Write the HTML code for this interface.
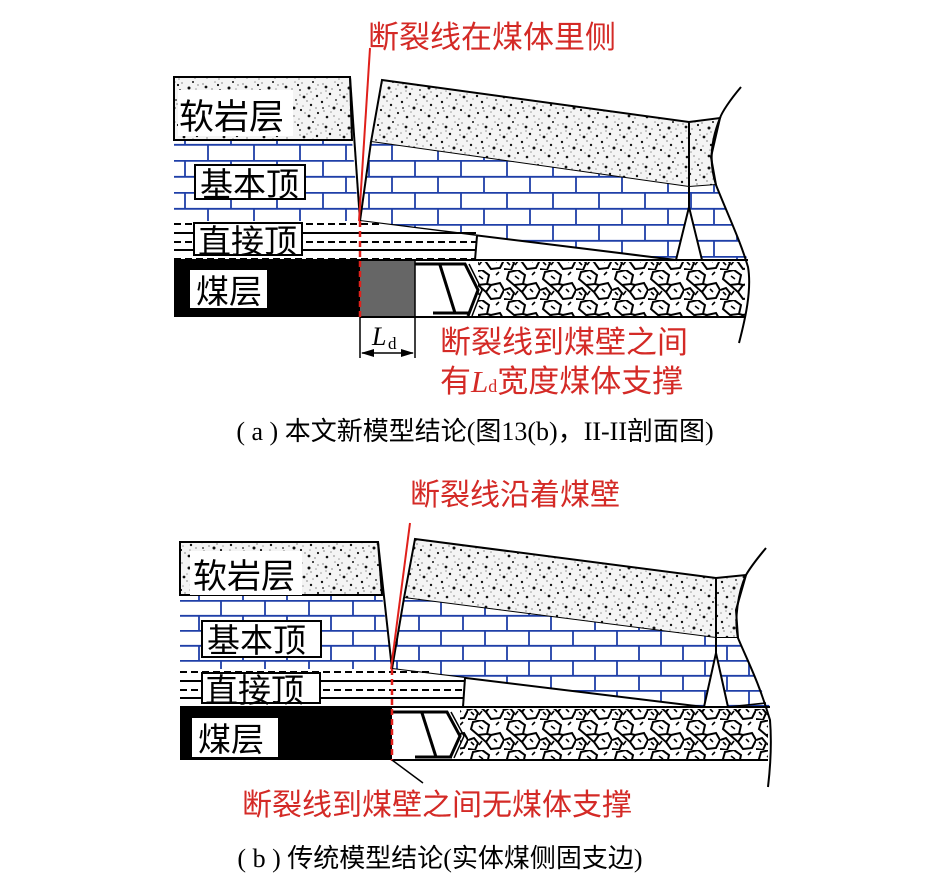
<!DOCTYPE html>
<html><head><meta charset="utf-8"><style>
html,body{margin:0;padding:0;background:#fff;}
svg{display:block;}
.cn{font-family:"Liberation Serif","Noto Sans CJK SC",sans-serif;}
</style></head><body>
<svg width="945" height="886" viewBox="0 0 945 886" xmlns="http://www.w3.org/2000/svg">
<defs>
<pattern id="sp" width="40" height="40" patternUnits="userSpaceOnUse">
<rect width="40" height="40" fill="#f4f4f4"/>
<g fill="#999">
<circle cx="3" cy="4" r="0.9"/><circle cx="12" cy="9" r="0.9"/><circle cx="22" cy="3" r="0.9"/><circle cx="31" cy="12" r="0.9"/><circle cx="7" cy="18" r="0.9"/><circle cx="17" cy="24" r="0.9"/><circle cx="27" cy="21" r="0.9"/><circle cx="36" cy="28" r="0.9"/><circle cx="4" cy="31" r="0.9"/><circle cx="14" cy="36" r="0.9"/><circle cx="25" cy="33" r="0.9"/><circle cx="35" cy="38" r="0.9"/><circle cx="20" cy="15" r="0.9"/><circle cx="38" cy="5" r="0.9"/><circle cx="9" cy="26" r="0.9"/>
<circle cx="15" cy="2" r="0.8"/><circle cx="33" cy="19" r="0.8"/><circle cx="1" cy="13" r="0.8"/><circle cx="23" cy="26" r="0.8"/><circle cx="30" cy="30" r="0.8"/><circle cx="11" cy="32" r="0.8"/><circle cx="19" cy="39" r="0.8"/><circle cx="27" cy="14" r="0.8"/><circle cx="6" cy="11" r="0.8"/><circle cx="36" cy="9" r="0.8"/>
</g>
<g fill="#111">
<circle cx="6" cy="7" r="1.4"/><circle cx="18" cy="5" r="1.1"/><circle cx="29" cy="8" r="1.5"/><circle cx="37" cy="16" r="1.2"/><circle cx="10" cy="14" r="1.2"/><circle cx="24" cy="17" r="1.4"/><circle cx="2" cy="22" r="1.2"/><circle cx="14" cy="28" r="1.5"/><circle cx="31" cy="25" r="1.2"/><circle cx="21" cy="30" r="1.1"/><circle cx="7" cy="37" r="1.3"/><circle cx="29" cy="36" r="1.4"/><circle cx="38" cy="33" r="1.1"/><circle cx="16" cy="20" r="0.9"/><circle cx="33" cy="2" r="1"/><circle cx="20" cy="10" r="0.9"/><circle cx="3" cy="28" r="0.9"/>
</g>
</pattern>
<pattern id="br" width="46" height="32" patternUnits="userSpaceOnUse">
<rect width="46" height="32" fill="#fff"/>
<path d="M0 0.8H46M0 16.8H46M1 0V16M24 16V32" stroke="#1f3fa8" stroke-width="1.8" fill="none"/>
</pattern>
<pattern id="br2" width="44" height="30" patternUnits="userSpaceOnUse">
<rect width="44" height="30" fill="#fff"/>
<path d="M0 0.8H44M0 15.8H44M1 0V15M23 15V30" stroke="#1f3fa8" stroke-width="1.8" fill="none"/>
</pattern>
<pattern id="hx" width="36" height="30" patternUnits="userSpaceOnUse">
<rect width="36" height="30" fill="#fff"/>
<path d="M5 2L14 0L21 5L19 14L10 15L3 9Z M23 15L32 13L36 20L32 28L23 29L18 22Z M0 20L6 18L10 23L7 30L0 29 M10 15L18 22 M19 14L23 15" stroke="#000" stroke-width="2" fill="none"/>
<path d="M11 6l4 3M26 19l3 3M3 22l3 3M14 21l-3 4M28 5l3-3" stroke="#000" stroke-width="1.6"/>
</pattern>
</defs>

<!-- ============ (a) ============ -->
<polygon points="174,77 350,77 352,140 174,140" fill="url(#sp)" stroke="#000" stroke-width="2"/>
<polygon points="174,140 352,140 359,221 174,221" fill="url(#br)"/>
<line x1="174" y1="140" x2="352" y2="140" stroke="#000" stroke-width="2"/>
<line x1="350" y1="77" x2="360" y2="221" stroke="#000" stroke-width="2"/>
<polygon points="382,80 689,122 689,187 371,142" fill="url(#sp)" stroke="#000" stroke-width="2"/>
<polygon points="689,122 720,118 711,157 716,185 689,187" fill="url(#sp)" stroke="#000" stroke-width="2"/>
<polygon points="371,142 689,187 716,185 742,247 748,260 702,260 689,207 676,260 360,221" fill="url(#br)"/>
<line x1="371" y1="142" x2="360" y2="221" stroke="#000" stroke-width="2"/>
<line x1="360" y1="221" x2="676" y2="260" stroke="#000" stroke-width="2"/>
<path d="M689 187V207L676 260M689 207L702 260" stroke="#000" stroke-width="2" fill="none"/>
<rect x="174" y="221" width="186" height="39" fill="#fff"/>
<polygon points="360,221 477,236 475,260 360,260" fill="#fff"/>
<g stroke="#000" stroke-width="2" fill="none">
<line x1="174" y1="233" x2="476" y2="233" />
<line x1="174" y1="250" x2="476" y2="250"/>
<line x1="477" y1="236" x2="475" y2="260"/>
</g>
<g stroke="#000" stroke-width="2" stroke-dasharray="7,4" fill="none">
<line x1="174" y1="224" x2="380" y2="224"/>
<line x1="174" y1="242" x2="476" y2="242"/>
<line x1="174" y1="259" x2="476" y2="259"/>
</g>
<rect x="174" y="260" width="186" height="57" fill="#000"/>
<rect x="360" y="261" width="55" height="55" fill="#666"/>
<rect x="478" y="262" width="267" height="54" fill="url(#hx)"/>
<line x1="174" y1="260" x2="748" y2="260" stroke="#000" stroke-width="2"/>
<line x1="360" y1="317" x2="745" y2="317" stroke="#000" stroke-width="2"/>
<line x1="415" y1="260" x2="415" y2="358" stroke="#000" stroke-width="1.5"/>
<line x1="360" y1="317" x2="360" y2="358" stroke="#000" stroke-width="1.5"/>
<g stroke="#000" fill="none">
<path d="M415 264H465L478 290L468 316" stroke-width="3"/>
<path d="M469 264L482 290L472 316" stroke-width="1.5"/>
<path d="M440 265L455 313" stroke-width="3"/>
<path d="M433 313H470" stroke-width="3"/>
</g>
<path d="M741 87C730 100 722 112 720 118C712 138 708 160 716 185C730 220 740 240 748 267C752 290 745 320 739 343" stroke="#000" stroke-width="2" fill="none"/>
<line x1="370" y1="48" x2="359" y2="221" stroke="#e0201b" stroke-width="2"/>
<line x1="360" y1="221" x2="360" y2="318" stroke="#e0201b" stroke-width="2.5" stroke-dasharray="6,4"/>
<rect x="178" y="90" width="115" height="46" fill="#fff"/>
<text x="179" y="129" class="cn" font-size="35">软岩层</text>
<rect x="195" y="165" width="110" height="34" fill="#fff" stroke="#000" stroke-width="2"/>
<text x="200" y="196" class="cn" font-size="33">基本顶</text>
<rect x="194" y="223" width="108" height="32" fill="#fff" stroke="#000" stroke-width="2"/>
<text x="198" y="253" class="cn" font-size="33">直接顶</text>
<rect x="190" y="270" width="77" height="38" fill="#fff"/>
<text x="196" y="303" class="cn" font-size="33">煤层</text>
<line x1="362" y1="353" x2="413" y2="353" stroke="#000" stroke-width="1.5"/>
<polygon points="361,353 374,349 374,357" fill="#000"/>
<polygon points="414,353 401,349 401,357" fill="#000"/>
<text x="372" y="345" font-family="Liberation Serif" font-style="italic" font-size="26">L</text>
<text x="388" y="349" font-family="Liberation Serif" font-size="17">d</text>
<text x="368" y="48" class="cn" font-size="31" fill="#d42a26">断裂线在煤体里侧</text>
<text x="440" y="353" class="cn" font-size="31" fill="#d42a26">断裂线到煤壁之间</text>
<text x="440" y="392" class="cn" font-size="31" fill="#d42a26">有<tspan font-family="Liberation Serif" font-style="italic">L</tspan><tspan font-family="Liberation Serif" font-size="18">d</tspan>宽度煤体支撑</text>
<text x="475" y="440" class="cn" font-size="26" text-anchor="middle">( a ) 本文新模型结论(图13(b)，II-II剖面图)</text>

<!-- ============ (b) ============ -->
<polygon points="180,542 378,542 382,595 180,595" fill="url(#sp)" stroke="#000" stroke-width="2"/>
<polygon points="180,595 382,595 392,669 180,669" fill="url(#br2)"/>
<line x1="180" y1="595" x2="382" y2="595" stroke="#000" stroke-width="2"/>
<line x1="378" y1="542" x2="392" y2="669" stroke="#000" stroke-width="2"/>
<polygon points="415,539 716,578 716,638 404,598" fill="url(#sp)" stroke="#000" stroke-width="2"/>
<polygon points="716,578 746,575 736,610 738,638 716,638" fill="url(#sp)" stroke="#000" stroke-width="2"/>
<polygon points="404,598 716,638 738,638 758,683 770,707 728,707 716,653 704,707 392,669" fill="url(#br2)"/>
<line x1="404" y1="598" x2="392" y2="669" stroke="#000" stroke-width="2"/>
<line x1="392" y1="669" x2="704" y2="707" stroke="#000" stroke-width="2"/>
<path d="M716 638V653L704 707M716 653L728 707" stroke="#000" stroke-width="2" fill="none"/>
<line x1="728" y1="707" x2="766" y2="703" stroke="#000" stroke-width="1.5"/>
<rect x="180" y="669" width="212" height="38" fill="#fff"/>
<polygon points="392,669 465,678 463,707 392,707" fill="#fff"/>
<g stroke="#000" stroke-width="2" fill="none">
<line x1="180" y1="681" x2="464" y2="681"/>
<line x1="180" y1="698" x2="464" y2="698"/>
<line x1="465" y1="678" x2="463" y2="707"/>
</g>
<g stroke="#000" stroke-width="2" stroke-dasharray="7,4" fill="none">
<line x1="180" y1="672" x2="430" y2="672"/>
<line x1="180" y1="690" x2="464" y2="690"/>
</g>
<rect x="180" y="707" width="212" height="53" fill="#000"/>
<rect x="460" y="709" width="308" height="50" fill="url(#hx)"/>
<line x1="180" y1="707" x2="770" y2="707" stroke="#000" stroke-width="2"/>
<line x1="392" y1="760" x2="768" y2="760" stroke="#000" stroke-width="2"/>
<g stroke="#000" fill="none">
<path d="M392 712H447L460 736L450 758" stroke-width="3"/>
<path d="M451 712L464 736L454 758" stroke-width="1.5"/>
<path d="M422 713L436 757" stroke-width="3"/>
<path d="M415 757H452" stroke-width="3"/>
</g>
<path d="M766 548C756 560 750 568 746 575C738 592 734 620 738 638C748 662 758 680 770 720C772 745 770 770 768 787" stroke="#000" stroke-width="2" fill="none"/>
<line x1="410" y1="523" x2="391" y2="669" stroke="#e0201b" stroke-width="2"/>
<line x1="392" y1="669" x2="392" y2="761" stroke="#e0201b" stroke-width="2.5" stroke-dasharray="6,4"/>
<line x1="392" y1="760" x2="423" y2="783" stroke="#000" stroke-width="1.5"/>
<rect x="190" y="551" width="112" height="44" fill="#fff"/>
<text x="193" y="588" class="cn" font-size="34">软岩层</text>
<rect x="202" y="621" width="119" height="36" fill="#fff" stroke="#000" stroke-width="2"/>
<text x="207" y="652" class="cn" font-size="33">基本顶</text>
<rect x="202" y="673" width="118" height="30" fill="#fff" stroke="#000" stroke-width="2"/>
<text x="205" y="702" class="cn" font-size="33">直接顶</text>
<rect x="192" y="718" width="86" height="39" fill="#fff"/>
<text x="198" y="751" class="cn" font-size="33">煤层</text>
<text x="515" y="505" class="cn" font-size="30" fill="#d42a26" text-anchor="middle">断裂线沿着煤壁</text>
<text x="437" y="815" class="cn" font-size="30" fill="#d42a26" text-anchor="middle">断裂线到煤壁之间无煤体支撑</text>
<text x="440" y="867" class="cn" font-size="26" text-anchor="middle">( b ) 传统模型结论(实体煤侧固支边)</text>
</svg>
</body></html>
